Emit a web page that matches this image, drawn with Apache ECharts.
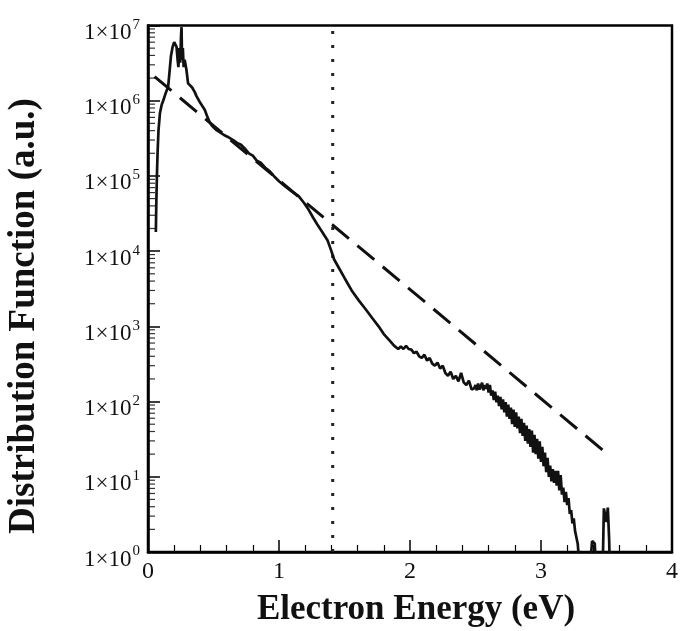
<!DOCTYPE html>
<html>
<head>
<meta charset="utf-8">
<script src="https://cdn.jsdelivr.net/npm/echarts@6/dist/echarts.min.js"></script>
<style>
html,body{margin:0;padding:0;background:#fff;}
#chart{width:681px;height:631px;}
</style>
</head>
<body>
<div id="chart"></div>
<script>
// ---- data ----
const energy = [0.060,0.063,0.068,0.073,0.080,0.091,0.105,0.116,0.135,0.154,0.165,0.175,0.188,0.200,0.210,0.218,0.226,0.232,0.240,0.246,0.252,0.256,0.260,0.266,0.272,0.280,0.293,0.306,0.320,0.337,0.357,0.37,0.40,0.433,0.45,0.47,0.49,0.52,0.55,0.58,0.61,0.65,0.68,0.71,0.74,0.77,0.80,0.83,0.86,0.90,0.93,0.96,1.00,1.05,1.10,1.15,1.19,1.22,1.26,1.29,1.33,1.37,1.40,1.42,1.45,1.50,1.56,1.61,1.66,1.71,1.76,1.80,1.84,1.88,1.91,1.93,1.95,1.97,1.99,2.01,2.03,2.05,2.07,2.09,2.11,2.13,2.15,2.17,2.19,2.21,2.23,2.25,2.27,2.29,2.31,2.33,2.35,2.37,2.39,2.41,2.43,2.45,2.47,2.49,
  2.50,2.51,2.52,2.53,2.54,2.55,2.56,2.57,2.58,2.59,2.60,2.61,2.62,2.63,2.64,2.65,2.66,2.67,2.68,2.69,2.70,2.71,2.72,2.73,2.74,2.75,2.76,2.77,2.78,2.79,2.80,2.81,2.82,2.83,2.84,2.85,2.86,2.87,2.88,2.89,2.90,2.91,2.92,2.93,2.94,2.95,2.96,2.97,2.98,2.99,3.00,3.01,3.02,3.03,3.04,3.05,3.06,3.07,3.08,3.09,3.10,3.11,3.12,3.13,3.14,3.15,3.16,3.17,3.18,3.19,3.20,3.21,3.22,3.23,3.24,3.25,3.26,3.27,3.28,3.29,3.30,
  3.31,3.36,3.39,3.41,3.43,3.47,3.48,3.50,3.51,3.52,3.53];
const distribution = [1.8e4,4.0e4,1.0e5,2.0e5,4.0e5,6.8e5,8.9e5,1.0e6,1.26e6,1.55e6,2.5e6,3.9e6,5.2e6,6.0e6,5.8e6,5.2e6,3.5e6,2.8e6,5.0e6,3.2e6,7.1e6,9.5e6,3.5e6,5.0e6,2.8e6,3.5e6,2.6e6,1.7e6,1.66e6,1.5e6,1.3e6,1.15e6,9.3e5,7.6e5,6.3e5,5.2e5,4.6e5,4.1e5,3.8e5,3.5e5,3.3e5,3.0e5,2.75e5,2.6e5,2.3e5,2.0e5,1.86e5,1.6e5,1.5e5,1.26e5,1.15e5,1.0e5,8.5e4,7.2e4,6.2e4,5.4e4,4.4e4,3.7e4,2.8e4,2.3e4,1.8e4,1.4e4,1.0e4,7.8e3,6.3e3,4.4e3,2.9e3,2.2e3,1.7e3,1.3e3,1.0e3,7.9e2,6.6e2,5.5e2,5.0e2,5.4e2,5.0e2,5.5e2,5.0e2,4.9e2,4.4e2,4.6e2,4.0e2,3.8e2,4.2e2,3.5e2,3.8e2,3.2e2,3.0e2,3.3e2,2.75e2,3.0e2,2.4e2,2.2e2,2.5e2,2.0e2,2.2e2,1.86e2,2.4e2,1.8e2,1.66e2,1.9e2,1.45e2,1.5e2,
  166,141,174,145,158,178,141,166,148,174,132,166,120,141,105,135,98,120,87,115,79,107,72,98,63,91,59,83,50,78,46,72,44,63,38,59,35,52,30,48,27.5,43,25,41,21,36,20,32,17.4,29.5,15.8,25,13.8,21,11.5,17.8,10,14.1,8.7,12.6,8.3,12,7.6,12,6.6,10.5,5.8,7.2,4.6,6.3,4.2,5.2,3.2,3.6,2.4,2.8,1.9,2.0,1.3,1.26,0.5,
  0.3,0.3,1.4,1.3,0.3,0.5,3.8,2.5,3.9,1.5,0.3];
const fitEnergy = [0.05, 3.53];
const fitValues = [2.09e6, 18.6];
const markerEnergy = 1.41;
const markerRange = [1, 1e7];
const xTicks = [0, 1, 2, 3, 4];
const yMinorTicks = [];
[1,10,100,1e3,1e4,1e5,1e6].forEach(function(d){ for (let k = 2; k <= 9; k++) yMinorTicks.push(k * d); });
const xTitle = 'Electron Energy (eV)';
const yTitle = 'Distribution Function (a.u.)';

const serif = '"Liberation Serif", "DejaVu Serif", serif';
const chart = echarts.init(document.getElementById('chart'));
chart.setOption({
  animation: false,
  backgroundColor: '#fff',
  grid: {left: 148, right: 6, top: 25.5, bottom: 79, show: true, borderColor: '#000', borderWidth: 2.5, backgroundColor: 'transparent'},
  xAxis: {
    type: 'value', min: xTicks[0], max: xTicks[xTicks.length - 1], interval: 1,
    axisLine: {show: true, lineStyle: {color: '#000', width: 2.5}},
    axisTick: {show: true, inside: true, length: 12, lineStyle: {color: '#000', width: 1.5}},
    minorTick: {show: true, splitNumber: 5, length: 7, lineStyle: {color: '#000', width: 1.2}},
    splitLine: {show: false},
    axisLabel: {fontFamily: serif, fontSize: 24, color: '#111', margin: 8}
  },
  yAxis: {
    type: 'log', logBase: 10, min: markerRange[0], max: markerRange[1], splitNumber: 7,
    axisLine: {show: true, lineStyle: {color: '#000', width: 2.5}},
    axisTick: {show: true, inside: true, length: 12, lineStyle: {color: '#000', width: 1.5}},
    splitLine: {show: false},
    axisLabel: {
      margin: 8,
      formatter: function (v) { return '{b|1×10}{s|' + Math.round(Math.log10(v)) + '}'; },
      rich: {
        b: {fontFamily: serif, fontSize: 23, color: '#111', verticalAlign: 'top', padding: [15, 0, 0, 0]},
        s: {fontFamily: serif, fontSize: 15, color: '#111', verticalAlign: 'top', padding: [11, 0, 0, 1]}
      }
    }
  },
  graphic: [
    {type: 'text', x: 416, y: 610, style: {text: xTitle, font: 'bold 35px ' + serif, fill: '#111', align: 'center', verticalAlign: 'middle'}},
    {type: 'text', x: 24.5, y: 316, rotation: Math.PI / 2, style: {text: yTitle, font: 'bold 37px ' + serif, fill: '#111', align: 'center', verticalAlign: 'middle'}}
  ],
  series: [
    {
      type: 'line', data: energy.map(function (e, i) { return [e, distribution[i]]; }),
      showSymbol: false, symbol: 'none', clip: true,
      lineStyle: {color: '#111', width: 2.7}, z: 5
    },
    {
      type: 'line', data: fitEnergy.map(function (e, i) { return [e, fitValues[i]]; }),
      showSymbol: false, symbol: 'none',
      lineStyle: {color: '#111', width: 3, type: [22, 11]}, z: 4
    },
    {
      type: 'line', data: markerRange.map(function (v) { return [markerEnergy, v]; }),
      showSymbol: false, symbol: 'none',
      lineStyle: {color: '#222', width: 3, type: [3, 11]}, z: 3
    },
    {
      type: 'scatter', data: yMinorTicks.map(function (v) { return [xTicks[0], v]; }),
      symbol: 'rect', symbolSize: [7, 1.2], symbolOffset: [3.5, 0], clip: false, silent: true,
      itemStyle: {color: '#000'}, z: 6
    }
  ]
});
</script>
</body>
</html>
